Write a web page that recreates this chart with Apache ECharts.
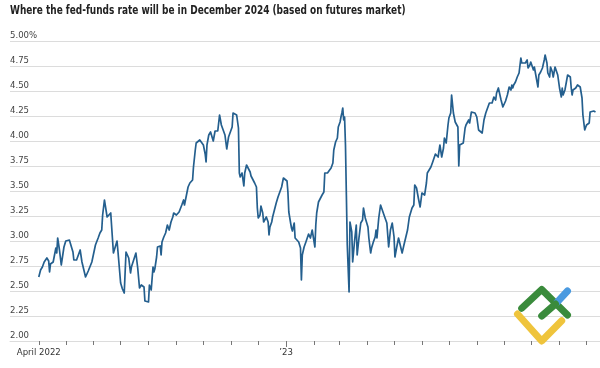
<!DOCTYPE html>
<html>
<head>
<meta charset="utf-8">
<script src="https://cdn.jsdelivr.net/npm/echarts@6/dist/echarts.min.js"></script>
<style>
html,body{margin:0;padding:0;background:#fff;}
#chart{width:600px;height:368px;}
</style>
</head>
<body>
<div id="chart"></div>
<script>
// ---- data ----
const dates = [
'2022-04-01','2022-04-03','2022-04-05','2022-04-06','2022-04-07','2022-04-10','2022-04-12','2022-04-13','2022-04-14','2022-04-17',
'2022-04-19','2022-04-20','2022-04-21','2022-04-22','2022-04-24','2022-04-26','2022-04-29','2022-05-01','2022-05-03','2022-05-05',
'2022-05-07','2022-05-09','2022-05-10','2022-05-13','2022-05-15','2022-05-17','2022-05-19','2022-05-20','2022-05-23','2022-05-26',
'2022-05-30','2022-06-03','2022-06-06','2022-06-08','2022-06-10','2022-06-11','2022-06-13','2022-06-15','2022-06-16','2022-06-17',
'2022-06-20','2022-06-21','2022-06-23','2022-06-25','2022-06-27','2022-06-28','2022-07-01','2022-07-03','2022-07-05','2022-07-07',
'2022-07-10','2022-07-12','2022-07-13','2022-07-15','2022-07-18','2022-07-20','2022-07-22','2022-07-24','2022-07-27','2022-07-28',
'2022-07-30','2022-08-01','2022-08-02','2022-08-04','2022-08-06','2022-08-07',
'2022-08-08','2022-08-10','2022-08-11','2022-08-14','2022-08-15','2022-08-16','2022-08-18','2022-08-20','2022-08-22','2022-08-24',
'2022-08-26','2022-08-28','2022-08-29','2022-09-01','2022-09-04','2022-09-07','2022-09-09','2022-09-10','2022-09-12','2022-09-14',
'2022-09-16','2022-09-19','2022-09-20','2022-09-22','2022-09-23','2022-09-25','2022-09-27','2022-09-29','2022-10-01','2022-10-03',
'2022-10-04','2022-10-05','2022-10-07','2022-10-09','2022-10-11','2022-10-12','2022-10-14','2022-10-17','2022-10-19','2022-10-21',
'2022-10-23','2022-10-25','2022-10-27','2022-10-29','2022-10-31','2022-11-02','2022-11-03','2022-11-05','2022-11-07','2022-11-09',
'2022-11-10','2022-11-11','2022-11-13','2022-11-15','2022-11-16','2022-11-18','2022-11-20','2022-11-22','2022-11-23','2022-11-25',
'2022-11-27','2022-11-29','2022-11-30','2022-12-01','2022-12-03','2022-12-04','2022-12-06','2022-12-07','2022-12-09','2022-12-10',
'2022-12-12','2022-12-13',
'2022-12-14','2022-12-16','2022-12-17','2022-12-19','2022-12-21','2022-12-23','2022-12-25','2022-12-27','2022-12-29','2022-12-31',
'2023-01-02','2023-01-03','2023-01-04','2023-01-06','2023-01-07','2023-01-08','2023-01-10','2023-01-11','2023-01-13','2023-01-15',
'2023-01-16','2023-01-17','2023-01-18','2023-01-19','2023-01-21','2023-01-23','2023-01-24','2023-01-26','2023-01-28','2023-01-30',
'2023-02-01','2023-02-02','2023-02-03','2023-02-04','2023-02-06','2023-02-08','2023-02-10','2023-02-12','2023-02-13','2023-02-14',
'2023-02-16','2023-02-18','2023-02-20','2023-02-22','2023-02-23','2023-02-25','2023-02-27','2023-02-28','2023-03-02','2023-03-03',
'2023-03-04','2023-03-05','2023-03-06','2023-03-07','2023-03-08','2023-03-09','2023-03-10','2023-03-12','2023-03-13','2023-03-15',
'2023-03-16','2023-03-18','2023-03-20','2023-03-21','2023-03-23','2023-03-25','2023-03-27','2023-03-28','2023-03-30','2023-04-02',
'2023-04-03','2023-04-05','2023-04-06','2023-04-08','2023-04-10','2023-04-11','2023-04-12','2023-04-14','2023-04-16','2023-04-18',
'2023-04-21','2023-04-23','2023-04-25','2023-04-27','2023-04-29','2023-04-30','2023-05-01','2023-05-02','2023-05-04','2023-05-06',
'2023-05-08','2023-05-10','2023-05-12','2023-05-14','2023-05-16','2023-05-18','2023-05-19','2023-05-21','2023-05-23','2023-05-24',
'2023-05-26','2023-05-28','2023-05-30','2023-06-01','2023-06-04','2023-06-06','2023-06-07','2023-06-09','2023-06-11','2023-06-13',
'2023-06-14','2023-06-16','2023-06-17','2023-06-19','2023-06-20','2023-06-21','2023-06-23','2023-06-25','2023-06-26','2023-06-28',
'2023-06-30','2023-07-01','2023-07-03','2023-07-04','2023-07-06','2023-07-08','2023-07-10','2023-07-11','2023-07-12','2023-07-13',
'2023-07-15','2023-07-17','2023-07-19','2023-07-20','2023-07-21','2023-07-23','2023-07-24','2023-07-26','2023-07-28','2023-07-30',
'2023-08-01','2023-08-03','2023-08-05','2023-08-07','2023-08-09','2023-08-11','2023-08-13','2023-08-15','2023-08-17',
'2023-08-18','2023-08-20','2023-08-22','2023-08-23','2023-08-25','2023-08-26','2023-08-28','2023-08-30','2023-08-31','2023-09-02',
'2023-09-04','2023-09-06','2023-09-08','2023-09-09','2023-09-10','2023-09-11','2023-09-13','2023-09-15','2023-09-17','2023-09-19',
'2023-09-20','2023-09-22','2023-09-24','2023-09-26','2023-09-27','2023-09-29','2023-09-30','2023-10-02','2023-10-03','2023-10-04',
'2023-10-06','2023-10-07','2023-10-08','2023-10-09','2023-10-11','2023-10-13','2023-10-15','2023-10-16','2023-10-18','2023-10-19',
'2023-10-21','2023-10-22','2023-10-24','2023-10-25','2023-10-27','2023-10-29','2023-10-30','2023-11-01','2023-11-03','2023-11-04',
'2023-11-05','2023-11-07','2023-11-08','2023-11-10','2023-11-11','2023-11-13','2023-11-14','2023-11-15','2023-11-16','2023-11-17',
'2023-11-19','2023-11-21','2023-11-23','2023-11-24','2023-11-26','2023-11-27','2023-11-28','2023-11-29','2023-12-01','2023-12-02',
'2023-12-04','2023-12-05','2023-12-07','2023-12-09','2023-12-11'
];
const rates = [
2.64,2.71,2.74,2.73,2.79,2.83,2.80,2.69,2.77,2.79,
2.81,2.93,2.88,3.03,2.91,2.76,2.94,3.00,3.02,3.01,
3.00,2.89,2.81,2.81,2.81,2.91,2.79,2.81,2.64,2.70,
2.79,2.96,3.03,3.08,3.11,3.26,3.41,3.42,3.24,3.25,
3.28,3.29,2.88,2.90,3.00,2.90,2.58,2.52,2.48,2.89,
2.83,2.68,2.74,2.73,2.88,2.73,2.53,2.56,2.54,2.40,
2.38,2.39,2.56,2.51,2.74,2.69,
2.72,2.84,2.94,2.95,2.86,2.99,3.04,3.08,3.16,3.11,
3.19,3.24,3.28,3.26,3.29,3.36,3.41,3.36,3.34,3.54,
3.58,3.61,3.74,3.91,3.98,3.99,4.01,4.03,3.96,3.87,
3.79,3.96,4.06,4.09,4.07,4.00,4.10,4.10,4.26,4.16,
4.14,4.06,3.92,4.04,4.09,4.14,4.28,4.26,4.26,4.13,
3.68,3.64,3.68,3.55,3.68,3.76,3.78,3.69,3.65,3.64,
3.58,3.54,3.33,3.23,3.26,3.35,3.28,3.19,3.17,3.24,
3.19,3.06,
3.14,3.19,3.24,3.31,3.38,3.44,3.49,3.54,3.63,3.62,
3.60,3.49,3.29,3.18,3.13,3.10,3.18,3.03,3.01,2.99,
2.96,2.93,2.61,2.86,2.94,2.99,2.98,3.07,3.03,3.11,
3.09,2.94,3.16,3.28,3.39,3.41,3.46,3.49,3.68,3.66,
3.68,3.70,3.73,3.78,3.91,3.99,4.03,4.14,4.19,4.24,
4.28,4.33,4.21,4.24,3.96,3.46,2.96,2.49,3.19,3.09,
2.79,2.99,3.16,2.86,3.03,3.18,3.21,3.33,3.23,3.14,
3.03,2.88,2.93,2.99,3.04,3.11,3.03,3.23,3.36,3.38,
3.23,3.18,2.94,3.11,3.18,3.20,3.04,2.84,2.94,3.03,
3.04,2.88,2.96,2.98,3.11,3.24,3.27,3.33,3.36,3.56,
3.53,3.43,3.34,3.48,3.46,3.58,3.68,3.66,3.74,3.79,
3.78,3.87,3.86,3.84,3.86,3.96,3.84,3.93,4.03,3.98,
4.16,4.23,4.28,4.46,4.28,4.19,4.18,4.14,3.75,3.96,
3.96,3.98,4.13,4.16,4.14,4.21,4.18,4.29,4.28,4.28,
4.24,4.11,4.09,4.08,4.21,4.28,4.33,4.38,4.36,
4.38,4.44,4.41,4.48,4.53,4.51,4.41,4.34,4.33,4.40,
4.46,4.54,4.51,4.56,4.53,4.56,4.59,4.64,4.68,4.83,
4.78,4.80,4.78,4.81,4.73,4.76,4.79,4.81,4.71,4.74,
4.64,4.59,4.54,4.66,4.69,4.73,4.81,4.86,4.78,4.68,
4.64,4.74,4.69,4.64,4.74,4.73,4.66,4.53,4.44,4.53,
4.46,4.51,4.51,4.66,4.68,4.64,4.53,4.46,4.51,4.53,
4.53,4.56,4.58,4.54,4.43,4.26,4.28,4.11,4.16,4.17,
4.18,4.29,4.31,4.30,4.29
];
const tickMonths = [
'2022-04-01','2022-05-01','2022-06-01','2022-07-01','2022-08-01','2022-09-01','2022-10-01',
'2022-11-01','2022-12-01','2023-01-01','2023-02-01','2023-03-01','2023-04-01','2023-05-01',
'2023-06-01','2023-07-01','2023-08-01','2023-09-01','2023-10-01','2023-11-01','2023-12-01'
];
const labelMonths = ['2022-04-01','2023-01-01'];
const labelTexts = ['April 2022','\u201923'];
const yearTick = ['2023-01-01'];
const axisStart = '2022-02-28';
const axisEnd = '2023-12-16';
const titleText = 'Where the fed-funds rate will be in December 2024 (based on futures market)';

// ---- chart ----
const FONT = '"DejaVu Sans Condensed", "Liberation Sans Narrow", "Roboto", sans-serif';
const ts = s => { const p = s.split('-').map(Number); return Date.UTC(p[0], p[1] - 1, p[2]); };
const labelTs = labelMonths.map(ts);

const chart = echarts.init(document.getElementById('chart'), null, {renderer: 'canvas'});
chart.setOption({
  animation: false,
  backgroundColor: '#fff',
  grid: {left: 10, right: 0, top: 41, bottom: 27, containLabel: false},
  xAxis: [{
    type: 'value',
    min: ts(axisStart), max: ts(axisEnd),
    axisLine: {show: true, lineStyle: {color: '#dcdcdc', width: 1}},
    axisTick: {show: true, length: 4, lineStyle: {color: '#777', width: 1}, customValues: tickMonths.map(ts)},
    axisLabel: {
      show: true, customValues: labelTs, margin: 7,
      fontFamily: FONT, fontSize: 9.5, color: '#333', hideOverlap: false,
      formatter: v => { const i = labelTs.indexOf(v); return i >= 0 ? labelTexts[i] : ''; }
    },
    splitLine: {show: false}
  }, {
    type: 'value',
    min: ts(axisStart), max: ts(axisEnd),
    position: 'bottom',
    axisLine: {show: false},
    axisTick: {show: true, length: 6, lineStyle: {color: '#777', width: 1}, customValues: yearTick.map(ts)},
    axisLabel: {show: false},
    splitLine: {show: false}
  }],
  yAxis: {
    type: 'value',
    min: 2, max: 5, interval: 0.25,
    axisLine: {show: false},
    axisTick: {show: false},
    axisLabel: {
      inside: true, margin: 0, verticalAlign: 'bottom', align: 'left',
      fontFamily: FONT, fontSize: 9.5, color: '#444',
      formatter: v => v === 5 ? '5.00%' : v.toFixed(2)
    },
    splitLine: {show: true, lineStyle: {color: '#dcdcdc', width: 1}}
  },
  series: [{
    type: 'line',
    data: dates.map((d, i) => [ts(d), rates[i]]),
    showSymbol: false,
    symbol: 'none',
    lineStyle: {color: '#245f8e', width: 1.7, join: 'round'},
    z: 3
  }],
  graphic: [
    {type: 'text', x: 10, y: 5, scaleX: 0.83, z: 20,
     style: {text: titleText, fill: '#222', font: 'bold 12px "DejaVu Sans Condensed", sans-serif', textVerticalAlign: 'top'}},
    {type: 'polyline', z: 10, shape: {points: [[521.7,308.3],[541.7,289.5],[567.5,315]]},
     style: {stroke: '#3a8b3c', lineWidth: 7, lineCap: 'round', lineJoin: 'round', fill: null}},
    {type: 'polyline', z: 10, shape: {points: [[556.5,302.8],[567.5,291]]},
     style: {stroke: '#4a9ae0', lineWidth: 7, lineCap: 'round', fill: null}},
    {type: 'polyline', z: 11, shape: {points: [[541.7,316],[555.5,304]]},
     style: {stroke: '#3a8b3c', lineWidth: 7, lineCap: 'round', fill: null}},
    {type: 'polyline', z: 10, shape: {points: [[517.5,314],[541.7,341],[561.7,320.7]]},
     style: {stroke: '#efc43c', lineWidth: 7, lineCap: 'round', lineJoin: 'round', fill: null}}
  ]
});
</script>
</body>
</html>
